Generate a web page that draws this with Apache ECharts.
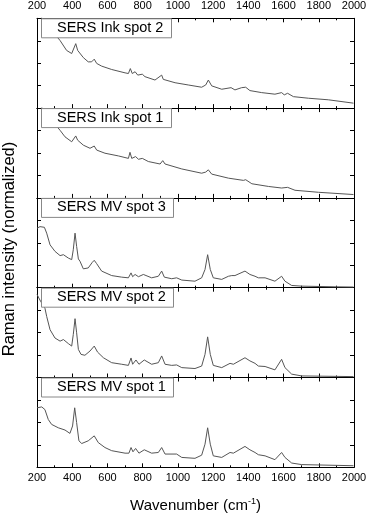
<!DOCTYPE html>
<html><head><meta charset="utf-8">
<script src="https://cdn.jsdelivr.net/npm/echarts@6/dist/echarts.min.js"></script>
<style>html,body{margin:0;padding:0;background:#fff}#c{width:368px;height:513px}</style>
</head><body><div id="c"></div>
<script>
const panelLabels = ["SERS Ink spot 2","SERS Ink spot 1","SERS MV spot 3","SERS MV spot 2","SERS MV spot 1"];
const xTicks = [200,400,600,800,1000,1200,1400,1600,1800,2000];
const yTitle = "Raman intensity (normalized)";

const ink2X = [200,250,300,331,368,397,420,431,440,463,491,510,525,539,567,624,700,719,730,741,757,772,798,813,870,908,917,984,1059,1135,1158,1173,1192,1249,1302,1324,1362,1385,1409,1476,1551,1589,1604,1623,1656,1741,1854,1997];
const ink2Y = [4.3,3.8,3.3,3.01,2.57,2.43,2.87,2.57,2.53,2.25,2.06,2.06,2.18,1.99,1.87,1.72,1.57,1.54,1.76,1.54,1.62,1.47,1.51,1.40,1.25,1.47,1.28,1.13,1.03,0.93,1.03,1.25,0.99,0.84,0.91,0.81,0.91,0.93,0.78,0.69,0.62,0.69,0.59,0.66,0.51,0.44,0.37,0.22];

const ink1X = [200,250,300,331,359,397,420,431,440,463,501,525,539,586,662,719,728,738,760,776,798,832,899,914,927,1022,1135,1158,1173,1192,1287,1372,1385,1420,1514,1589,1623,1665,1798,1997];
const ink1Y = [4.3,3.8,3.3,3.01,2.72,2.50,2.76,2.57,2.65,2.35,2.21,2.31,2.13,1.99,1.87,1.76,2.03,1.76,1.84,1.72,1.76,1.62,1.51,1.66,1.51,1.29,1.10,1.15,1.25,1.06,0.88,0.78,0.81,0.63,0.51,0.44,0.47,0.34,0.25,0.15];

const mv3X = [200,217,242,255,274,302,331,350,378,397,406,416,425,435,444,463,491,514,525,539,567,624,681,719,734,743,757,776,804,851,889,908,923,965,993,1022,1097,1135,1154,1169,1184,1201,1249,1287,1306,1324,1381,1409,1438,1457,1495,1551,1589,1608,1646,1703,1892,1997];
const mv3Y = [2.65,2.72,2.69,2.43,1.91,1.62,1.43,1.47,1.32,1.25,1.69,2.43,1.84,1.28,1.18,0.84,0.88,1.13,1.22,1.07,0.74,0.54,0.47,0.44,0.66,0.49,0.59,0.49,0.59,0.44,0.51,0.74,0.47,0.40,0.44,0.34,0.29,0.44,0.81,1.47,0.81,0.44,0.37,0.51,0.54,0.54,0.74,0.59,0.51,0.44,0.44,0.29,0.51,0.29,0.10,0.07,0.04,0.03];

const mv2X = [200,220,245,255,274,302,331,350,378,397,406,416,425,435,450,472,501,525,544,577,624,681,719,734,743,762,779,809,851,889,908,927,965,993,1022,1097,1135,1154,1169,1184,1201,1249,1296,1315,1381,1409,1438,1457,1495,1551,1589,1608,1646,1703,1997];
const mv2Y = [3.7,3.4,3.09,2.72,2.13,1.76,1.62,1.69,1.51,1.40,1.91,2.62,1.99,1.25,1.03,0.99,1.18,1.40,1.13,0.88,0.66,0.59,0.54,0.87,0.59,0.78,0.59,0.78,0.59,0.66,0.96,0.59,0.54,0.56,0.44,0.40,0.51,1.03,1.81,1.03,0.54,0.44,0.63,0.59,0.88,0.74,0.63,0.51,0.49,0.34,0.81,0.44,0.15,0.07,0.04];

const mv1X = [200,227,245,264,283,321,359,387,402,414,425,438,454,491,525,548,586,624,700,722,734,745,760,779,809,851,889,908,927,993,1022,1097,1135,1154,1169,1184,1201,1249,1296,1315,1381,1409,1438,1457,1495,1551,1589,1608,1646,1703,1997];
const mv1Y = [2.65,2.69,2.57,2.13,1.91,1.76,1.66,1.51,1.84,2.65,1.99,1.18,1.06,1.18,1.40,1.10,0.88,0.74,0.63,0.63,0.88,0.69,0.84,0.63,0.78,0.63,0.66,0.88,0.59,0.59,0.44,0.40,0.54,1.03,1.76,1.03,0.51,0.44,0.66,0.63,0.93,0.78,0.66,0.56,0.51,0.34,0.66,0.44,0.19,0.12,0.07];

const seriesX = [ink2X, ink1X, mv3X, mv2X, mv1X];
const seriesY = [ink2Y, ink1Y, mv3Y, mv2Y, mv1Y];

const TOP = 18.3, PH = 89.8, LEFT = 37, RIGHT = 14;
const font = "Liberation Sans, Arial, sans-serif";
const grids = [], xAxes = [], yAxes = [], series = [], titles = [];
for (let i = 0; i < 5; i++) {
  grids.push({left: LEFT, right: RIGHT, top: TOP + i*PH, height: PH, show: false,
    containLabel: false, outerBoundsMode: "none"});
  ["bottom","top"].forEach(pos => {
    const showLab = (pos === "bottom" && i === 4) || (pos === "top" && i === 0);
    const ax = {
      type: "value", gridIndex: i, position: pos, min: 200, max: 2000, interval: 200,
      axisLine: {show: true, onZero: false, lineStyle: {color: "#000", width: 1}},
      axisTick: {show: true, inside: true, length: 4, lineStyle: {color: "#000"}},
      minorTick: {show: true, splitNumber: 2, length: 2, lineStyle: {color: "#000"}},
      splitLine: {show: false},
      axisLabel: {show: showLab, fontSize: 11, color: "#000", fontFamily: font, margin: pos === "top" ? 7 : 5,
        formatter: v => xTicks.includes(v) ? String(v) : ""}
    };
    if (pos === "bottom" && i === 4) {
      ax.name = "Wavenumber (cm{sup|-1})";
      ax.nameLocation = "middle";
      ax.nameGap = 30;
      ax.nameTextStyle = {fontSize: 15, color: "#000", fontFamily: font,
        rich: {sup: {fontSize: 9, color: "#000", fontFamily: font, verticalAlign: "top", padding: [0,0,9,0]}}};
    }
    xAxes.push(ax);
  });
  ["left","right"].forEach(pos => {
    yAxes.push({
      type: "value", gridIndex: i, position: pos, min: 0, max: 4, interval: 1,
      axisLine: {show: true, onZero: false, lineStyle: {color: "#000", width: 1}},
      axisTick: {show: true, inside: true, length: 4, lineStyle: {color: "#000"}},
      splitLine: {show: false}, axisLabel: {show: false}
    });
  });
  series.push({
    type: "line", xAxisIndex: 2*i, yAxisIndex: 2*i, showSymbol: false, clip: true,
    data: seriesX[i].map((x, k) => [x, seriesY[i][k]]),
    lineStyle: {color: "#555", width: 1}, silent: true, animation: false
  });
  titles.push({
    text: panelLabels[i], left: 41, top: TOP + i*PH,
    padding: [2, 8, 3, 16], borderColor: "#888", borderWidth: 1, backgroundColor: "#fff",
    textStyle: {fontSize: 14.5, fontWeight: "normal", color: "#000", fontFamily: font, lineHeight: 15}
  });
}
const chart = echarts.init(document.getElementById("c"), null, {renderer: "canvas"});
chart.setOption({
  animation: false, title: titles, grid: grids, xAxis: xAxes, yAxis: yAxes, series: series,
  graphic: [{
    type: "text", x: 9, y: 249, rotation: Math.PI / 2, silent: true,
    style: {text: yTitle, font: "16.5px " + font, fill: "#000", align: "center", verticalAlign: "middle"}
  }]
});
</script></body></html>
